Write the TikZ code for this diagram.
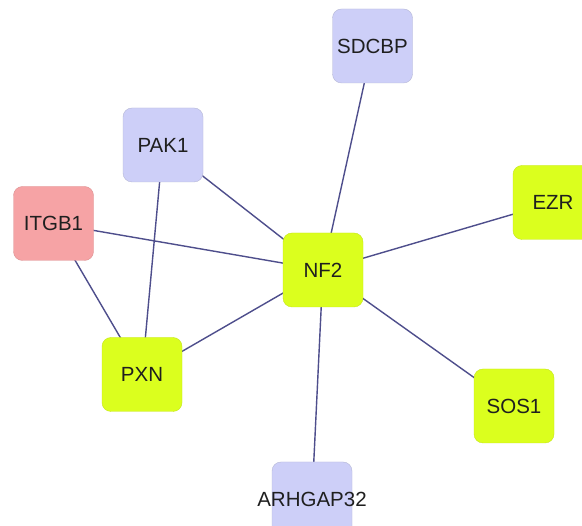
\documentclass[tikz,border=0pt]{standalone}
\usepackage{fontspec}
\setmainfont{Liberation Sans}
\usetikzlibrary{backgrounds}

\definecolor{lav}{HTML}{CDCFF8}
\definecolor{lime}{HTML}{DBFF1E}
\definecolor{rose}{HTML}{F6A3A5}
\definecolor{wire}{HTML}{4E4E8C}

\tikzset{
    gene/.style={rounded corners=9pt,minimum width=80pt,minimum height=74pt,
        inner sep=0pt,font=\fontsize{20.5}{22}\selectfont,text=black!88},
    lavgene/.style={gene,fill=lav,draw=lav!85!black!90},
    limegene/.style={gene,fill=lime,draw=lime!90!black},
    rosegene/.style={gene,fill=rose,draw=rose!90!black},
    link/.style={wire,line width=1.4pt}
}

\begin{document}
\begin{tikzpicture}[x=1pt,y=-1pt]
            \clip (0,0) rectangle (582,526);

            \node[lavgene] (sdcbp) at (372.5,46) {SDCBP};
            \node[lavgene] (pak1) at (163,145) {PAK1};
            \node[rosegene] (itgb1) at (53.5,223.5) {ITGB1};
            \node[limegene] (ezr) at (553,202.5) {EZR};
            \node[limegene] (nf2) at (323,270) {NF2};
            \node[limegene] (pxn) at (142,374.5) {PXN};
            \node[limegene] (sos1) at (514,406) {SOS1};
            \node[lavgene,inner xsep=-16pt] (arhgap32) at (312,499) {ARHGAP32};

            \begin{scope}[on background layer]
                \fill[white] (0,0) rectangle (582,526);
                \draw[link] (nf2.center)--(sdcbp.center);
                \draw[link] (nf2.center)--(pak1.center);
                \draw[link] (nf2.center)--(itgb1.center);
                \draw[link] (nf2.center)--(ezr.center);
                \draw[link] (nf2.center)--(pxn.center);
                \draw[link] (nf2.center)--(sos1.center);
                \draw[link] (nf2.center)--(arhgap32.center);
                \draw[link] (pak1.center)--(pxn.center);
                \draw[link] (itgb1.center)--(pxn.center);
            \end{scope}
\end{tikzpicture}
\end{document}
